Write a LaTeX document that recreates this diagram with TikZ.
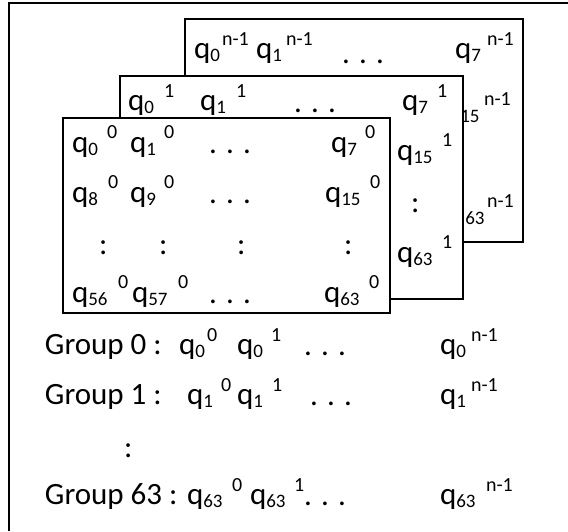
\documentclass[tikz,border=0pt]{standalone}
\usepackage{fontspec}
\setmainfont{Carlito}
\newcommand\mainf{\fontsize{31}{31}\selectfont}
\newcommand\subf{\fontsize{19}{19}\selectfont}
\newcommand\supf{\fontsize{20}{20}\selectfont}
\newcommand\qe[3]{\node[txt] (#1) at (#2) {q\raisebox{-3pt}{\subf #3}};}
\newcommand\supn[3]{\node[suptxt] (#1) at (#2) {#3};}
\newcommand\dotsn[2]{\node[txt] (#1) at (#2) {.\hspace{0.3em}.\hspace{0.3em}.};}
\newcommand\coln[2]{\node[txt] (#1) at (#2) {:};}
\tikzset{
  txt/.style={anchor=base west,inner sep=0pt,outer sep=0pt,font=\mainf},
  suptxt/.style={anchor=base west,inner sep=0pt,outer sep=0pt,font=\supf},
  layer/.style={draw=black,fill=white,line width=1.6pt},
  frame/.style={line width=2pt}
}
\begin{document}
\begin{tikzpicture}[x=1pt,y=-1pt]
\useasboundingbox (0,0) rectangle (568,531);
% outer frame (only left and top visible)
\coordinate (fbl) at (9,531);
\coordinate (ftl) at (9,3);
\coordinate (ftr) at (568,3);
\draw[frame] (fbl) -- (ftl) -- (ftr);
% back box (n-1)
\node[layer,anchor=north west,minimum width=338pt,minimum height=223pt,inner sep=0pt] (back) at (184,18) {};
\qe{b0}{194,58}{0}\supn{b0s}{222,45}{n-1}
\qe{b1}{256,58}{1}\supn{b1s}{286,45}{n-1}
\dotsn{bd}{342,63}
\qe{b7}{455,58}{7}\supn{b7s}{487,45}{n-1}
\qe{b15}{444,119}{15}\supn{b15s}{484,105}{n-1}
\qe{b63}{449,221}{63}\supn{b63s}{487,207}{n-1}
% middle box (1)
\node[layer,anchor=north west,minimum width=343pt,minimum height=223pt,inner sep=0pt] (mid) at (119,75) {};
\qe{m0}{128,110}{0}\supn{m0s}{164,97}{1}
\qe{m1}{200,110}{1}\supn{m1s}{236,97}{1}
\dotsn{md}{294,112}
\qe{m7}{402,110}{7}\supn{m7s}{437,97}{1}
\qe{m15}{397,160}{15}\supn{m15s}{442,146}{1}
\coln{mc}{411,212}
\qe{m63}{397,262}{63}\supn{m63s}{442,248}{1}
% front box (0)
\node[layer,anchor=north west,minimum width=327pt,minimum height=195pt,inner sep=0pt] (front) at (62,117) {};
\qe{f0}{72,152}{0}\supn{f0s}{107,138}{0}
\qe{f1}{130,152}{1}\supn{f1s}{164,138}{0}
\dotsn{f1d}{209,153}
\qe{f7}{331,152}{7}\supn{f7s}{365,138}{0}
\qe{f8}{72,202}{8}\supn{f8s}{108,188}{0}
\qe{f9}{130,202}{9}\supn{f9s}{164,188}{0}
\dotsn{f2d}{209,203}
\qe{f15}{325,202}{15}\supn{f15s}{370,188}{0}
\coln{fc1}{99,254}
\coln{fc2}{159,254}
\coln{fc3}{237,254}
\coln{fc4}{344,254}
\qe{f56}{72,302}{56}\supn{f56s}{118,288}{0}
\qe{f57}{132,302}{57}\supn{f57s}{178,288}{0}
\dotsn{f4d}{209,303}
\qe{f63}{324,302}{63}\supn{f63s}{369,288}{0}
% groups
\node[txt] (g0) at (45,354) {Group 0 :};
\qe{g0a}{179,354}{0}\supn{g0as}{207,341}{0}
\qe{g0b}{237,354}{0}\supn{g0bs}{271,341}{1}
\dotsn{g0d}{304,355}
\qe{g0c}{440,354}{0}\supn{g0cs}{471,341}{n-1}
\node[txt] (g1) at (45,404) {Group 1 :};
\qe{g1a}{187,404}{1}\supn{g1as}{221,391}{0}
\qe{g1b}{237,404}{1}\supn{g1bs}{272,391}{1}
\dotsn{g1d}{310,405}
\qe{g1c}{440,404}{1}\supn{g1cs}{471,391}{n-1}
\coln{gc}{124,457}
\node[txt] (g63) at (45,504) {Group 63 :};
\qe{g63a}{187,504}{63}\supn{g63as}{232,491}{0}
\qe{g63b}{250,504}{63}\supn{g63bs}{294,491}{1}
\dotsn{g63d}{304,505}
\qe{g63c}{440,504}{63}\supn{g63cs}{486,491}{n-1}
\end{tikzpicture}
\end{document}
